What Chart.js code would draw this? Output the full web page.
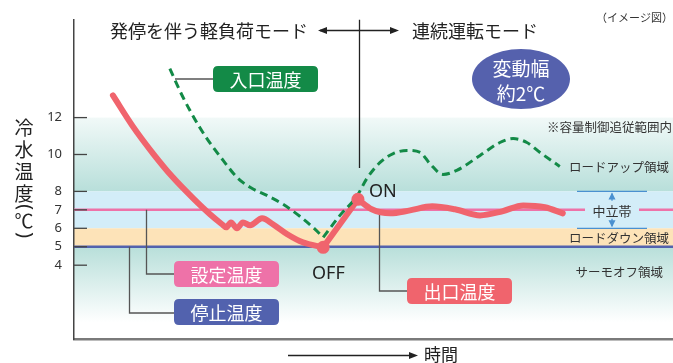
<!DOCTYPE html>
<html><head><meta charset="utf-8">
<script src="https://cdn.jsdelivr.net/npm/chart.js@4"></script>
<style>html,body{margin:0;padding:0;background:#fff}#wrap{width:673px;height:363px;position:relative}canvas{display:block}</style>
</head><body><div id="wrap"><canvas id="c" width="673" height="363"></canvas></div>
<script>
// ---- data (time in arbitrary units 0..100, temperature in °C) ----
const yTicks = [4, 5, 6, 7, 8, 10, 12];
const setTemp = 7;
const stopTemp = 5;

const outletDownTime = [6.5, 9.85, 13.2, 16.5, 19.9, 22.7, 24.7, 25.4, 26.2, 27.2, 28.2, 29.4, 31.4, 33.2, 35.6, 38.2, 41.6];
const outletDownTemp = [13.2, 11.51, 10.05, 8.76, 7.62, 6.76, 6.22, 6.05, 6.32, 6.0, 6.32, 6.16, 6.54, 6.22, 5.68, 5.24, 4.97];
const outletRiseTime = [41.6, 47.4];
const outletRiseTemp = [4.97, 7.57];
const outletRunTime = [47.4, 49.7, 52.8, 56.1, 59.8, 63.6, 67.8, 71.5, 75.0, 78.6, 81.6];
const outletRunTemp = [7.57, 7.03, 6.81, 6.97, 7.19, 7.03, 6.70, 6.92, 7.24, 7.14, 6.81];

const inletDownTime = [16.0, 18.2, 21.0, 23.2, 24.9, 27.2, 29.4, 32.2, 34.9, 37.7, 39.9, 41.6];
const inletDownTemp = [14.65, 13.1, 11.46, 10.4, 9.68, 8.76, 8.22, 7.78, 7.30, 6.65, 6.05, 5.51];
const inletRunTime = [41.6, 44.4, 47.2, 48.9, 51.1, 53.3, 55.6, 57.8, 59.4, 61.6, 63.9, 67.8, 71.1, 73.3, 75.6, 77.8, 81.1];
const inletRunTemp = [5.51, 6.70, 7.73, 8.70, 9.57, 10.05, 10.22, 10.11, 9.51, 8.92, 9.14, 9.95, 10.65, 10.86, 10.65, 10.11, 9.35];

const switchTime = [41.6, 47.4];   // OFF, ON
const switchTemp = [4.97, 7.57];

const JP = '"Noto Sans CJK JP", "Noto Sans", sans-serif';
const RED = '#f0646d', GREEN = '#138a47', PINK = '#ee72a8', BLUE = '#5262ae';

const pts = (t, v) => t.map((x, i) => ({x, y: v[i]}));

function roundRect(ctx, x, y, w, h, r) {
  ctx.beginPath();
  ctx.moveTo(x + r, y); ctx.lineTo(x + w - r, y); ctx.quadraticCurveTo(x + w, y, x + w, y + r);
  ctx.lineTo(x + w, y + h - r); ctx.quadraticCurveTo(x + w, y + h, x + w - r, y + h);
  ctx.lineTo(x + r, y + h); ctx.quadraticCurveTo(x, y + h, x, y + h - r);
  ctx.lineTo(x, y + r); ctx.quadraticCurveTo(x, y, x + r, y); ctx.closePath();
}
function labelBox(ctx, text, x, y, w, h, color) {
  ctx.fillStyle = color; roundRect(ctx, x, y, w, h, 5); ctx.fill();
  ctx.fillStyle = '#fff'; ctx.font = '18px ' + JP; ctx.textAlign = 'center'; ctx.textBaseline = 'middle';
  ctx.fillText(text, x + w / 2, y + h / 2 + 1);
}
function arrowHead(ctx, x, y, dir) {
  ctx.beginPath(); ctx.moveTo(x, y); ctx.lineTo(x - dir * 9, y - 3.5); ctx.lineTo(x - dir * 9, y + 3.5); ctx.closePath(); ctx.fill();
}

const decor = {
  id: 'decor',
  beforeDraw(chart) {
    const {ctx, chartArea: a, scales: {y}} = chart;
    const w = a.right - a.left;
    ctx.save();
    ctx.fillStyle = '#fff'; ctx.fillRect(0, 0, chart.width, chart.height);
    const y12 = y.getPixelForValue(12), y8 = y.getPixelForValue(8), y6 = y.getPixelForValue(6),
          y5 = y.getPixelForValue(5), yLow = y.getPixelForValue(0.9);
    let g = ctx.createLinearGradient(0, y12, 0, y8);
    g.addColorStop(0, '#f1f9f8'); g.addColorStop(1, '#b8dfda');
    ctx.fillStyle = g; ctx.fillRect(a.left, y12, w, y8 - y12);
    ctx.fillStyle = '#d3edf8'; ctx.fillRect(a.left, y8, w, y6 - y8);
    ctx.fillStyle = '#fde3b8'; ctx.fillRect(a.left, y6, w, y5 - y6);
    g = ctx.createLinearGradient(0, y5, 0, yLow);
    g.addColorStop(0, '#b8dfda'); g.addColorStop(1, '#ffffff');
    ctx.fillStyle = g; ctx.fillRect(a.left, y5, w, yLow - y5);
    ctx.restore();
  },
  beforeDatasetsDraw(chart) {
    const {ctx, chartArea: a, scales: {y}} = chart;
    ctx.save();
    const y7 = y.getPixelForValue(setTemp), y5 = y.getPixelForValue(stopTemp);
    ctx.strokeStyle = BLUE; ctx.lineWidth = 2.5;
    ctx.beginPath(); ctx.moveTo(a.left, y5); ctx.lineTo(a.right, y5); ctx.stroke();
    ctx.strokeStyle = PINK; ctx.lineWidth = 2.5;
    ctx.beginPath(); ctx.moveTo(a.left, y7); ctx.lineTo(585, y7); ctx.moveTo(639, y7); ctx.lineTo(a.right, y7); ctx.stroke();
    ctx.strokeStyle = '#444'; ctx.lineWidth = 1.3;
    yTicks.forEach(v => { const p = y.getPixelForValue(v); ctx.beginPath(); ctx.moveTo(a.left, p); ctx.lineTo(a.left + 13, p); ctx.stroke(); });
    const y8 = y.getPixelForValue(8), y6 = y.getPixelForValue(6);
    ctx.strokeStyle = '#4a90d0'; ctx.fillStyle = '#4a90d0'; ctx.lineWidth = 1.3;
    ctx.beginPath(); ctx.moveTo(577, y8); ctx.lineTo(647, y8); ctx.moveTo(577, y6); ctx.lineTo(647, y6); ctx.stroke();
    ctx.beginPath(); ctx.moveTo(612, y8 + 2); ctx.lineTo(612, y7 - 9); ctx.moveTo(612, y7 + 9); ctx.lineTo(612, y6 - 2); ctx.stroke();
    ctx.beginPath(); ctx.moveTo(612, y8 + 1); ctx.lineTo(608.5, y8 + 8); ctx.lineTo(615.5, y8 + 8); ctx.closePath(); ctx.fill();
    ctx.beginPath(); ctx.moveTo(612, y6 - 1); ctx.lineTo(608.5, y6 - 8); ctx.lineTo(615.5, y6 - 8); ctx.closePath(); ctx.fill();
    ctx.strokeStyle = '#555'; ctx.lineWidth = 1.3;
    ctx.beginPath();
    ctx.moveTo(146.5, y7); ctx.lineTo(146.5, 274); ctx.lineTo(174, 274);
    ctx.moveTo(129.5, y5); ctx.lineTo(129.5, 313); ctx.lineTo(174, 313);
    ctx.moveTo(379.5, 211); ctx.lineTo(379.5, 291); ctx.lineTo(407, 291);
    ctx.moveTo(175, 79); ctx.lineTo(213, 79);
    ctx.stroke();
    ctx.restore();
  },
  afterDraw(chart) {
    const {ctx, chartArea: a} = chart;
    ctx.save();
    ctx.fillStyle = '#222'; ctx.strokeStyle = '#222'; ctx.lineWidth = 1.3;
    ctx.font = '18px ' + JP; ctx.textBaseline = 'middle'; ctx.textAlign = 'left';
    ctx.fillText('発停を伴う軽負荷モード', 110, 31);
    ctx.fillText('連続運転モード', 412, 31);
    ctx.beginPath(); ctx.moveTo(320, 30.5); ctx.lineTo(396, 30.5); ctx.moveTo(359.5, a.top); ctx.lineTo(359.5, 168); ctx.stroke();
    arrowHead(ctx, 318, 30.5, -1); arrowHead(ctx, 399, 30.5, 1);
    ctx.font = '11px ' + JP; ctx.textAlign = 'right'; ctx.fillStyle = '#333';
    ctx.fillText('（イメージ図）', 673, 18);
    ctx.fillStyle = '#5561ad';
    ctx.beginPath(); ctx.ellipse(521, 79, 49, 30, 0, 0, Math.PI * 2); ctx.fill();
    ctx.fillStyle = '#fff'; ctx.font = '19px ' + JP; ctx.textAlign = 'center';
    ctx.fillText('変動幅', 521, 69); ctx.fillText('約2℃', 521, 94);
    ctx.fillStyle = '#333'; ctx.font = '12.5px ' + JP; ctx.textAlign = 'right';
    ctx.fillText('※容量制御追従範囲内', 672, 127);
    ctx.fillText('ロードアップ領域', 669, 167);
    ctx.fillText('ロードダウン領域', 669, 238);
    ctx.fillText('サーモオフ領域', 663, 272);
    ctx.textAlign = 'center'; ctx.font = '13px ' + JP;
    ctx.fillText('中立帯', 612, 211);
    ctx.fillStyle = '#222'; ctx.font = '18px "Noto Sans", sans-serif'; ctx.textAlign = 'left';
    ctx.fillText('OFF', 312, 274); ctx.fillText('ON', 369, 192);
    labelBox(ctx, '入口温度', 213, 66, 105, 26, GREEN);
    labelBox(ctx, '設定温度', 174, 261, 105, 26, PINK);
    labelBox(ctx, '停止温度', 174, 299, 105, 26, BLUE);
    labelBox(ctx, '出口温度', 407, 278, 105, 26, RED);
    ctx.fillStyle = '#222'; ctx.font = '19px ' + JP; ctx.textAlign = 'center'; ctx.textBaseline = 'middle';
    [['冷', 128], ['水', 150], ['温', 172], ['度', 194]].forEach(([c, yy]) => ctx.fillText(c, 24, yy));
    ctx.fillText('℃', 24, 221);
    [['(', 207], [')', 235]].forEach(([c, yy]) => {
      ctx.save(); ctx.translate(24, yy); ctx.rotate(Math.PI / 2); ctx.font = '19px "Noto Sans", sans-serif'; ctx.fillText(c, 0, 0); ctx.restore();
    });
    ctx.beginPath(); ctx.moveTo(288, 355.5); ctx.lineTo(410, 355.5); ctx.stroke();
    arrowHead(ctx, 418, 355.5, 1);
    ctx.font = '17px ' + JP; ctx.textAlign = 'left';
    ctx.fillText('時間', 424, 355);
    ctx.restore();
  }
};

const lineBase = {fill: false, pointRadius: 0, cubicInterpolationMode: 'monotone', borderCapStyle: 'round', borderJoinStyle: 'round'};
new Chart(document.getElementById('c'), {
  type: 'line',
  data: {
    datasets: [
      {...lineBase, label: '入口温度', data: pts(inletDownTime, inletDownTemp), borderColor: GREEN, borderWidth: 3, borderDash: [8, 5], borderCapStyle: 'butt', order: 1},
      {...lineBase, label: '入口温度2', data: pts(inletRunTime, inletRunTemp), borderColor: GREEN, borderWidth: 3, borderDash: [8, 5], borderCapStyle: 'butt', order: 1},
      {...lineBase, label: '出口温度', data: pts(outletDownTime, outletDownTemp), borderColor: RED, borderWidth: 6, order: 2},
      {...lineBase, label: '出口温度2', data: pts(outletRiseTime, outletRiseTemp), borderColor: RED, borderWidth: 6, tension: 0, cubicInterpolationMode: 'default', order: 2},
      {...lineBase, label: '出口温度3', data: pts(outletRunTime, outletRunTemp), borderColor: RED, borderWidth: 6, order: 2},
      {type: 'scatter', label: 'ON/OFF', data: pts(switchTime, switchTemp), pointRadius: 6.5, pointBackgroundColor: RED, pointBorderWidth: 0, showLine: false, order: 0}
    ]
  },
  options: {
    responsive: false,
    animation: false,
    devicePixelRatio: 1,
    layout: {autoPadding: false, padding: {top: 19, right: 0, bottom: 0, left: 0}},
    plugins: {legend: {display: false}, tooltip: {enabled: false}},
    scales: {
      x: {
        type: 'linear', min: 0, max: 100,
        ticks: {display: false}, grid: {display: false, drawTicks: false},
        border: {display: true, color: '#7a7a7a', width: 2.5},
        afterFit: s => { s.height = 24; }
      },
      y: {
        type: 'linear', min: 0, max: 17.3,
        afterBuildTicks: s => { s.ticks = yTicks.map(v => ({value: v})); },
        ticks: {color: '#333', font: {size: 13, family: '"Noto Sans", sans-serif'}, padding: 12, autoSkip: false},
        grid: {display: false, drawTicks: false},
        border: {display: true, color: '#444', width: 1.5},
        afterFit: s => { s.width = 74; }
      }
    }
  },
  plugins: [decor]
});
</script></body></html>
